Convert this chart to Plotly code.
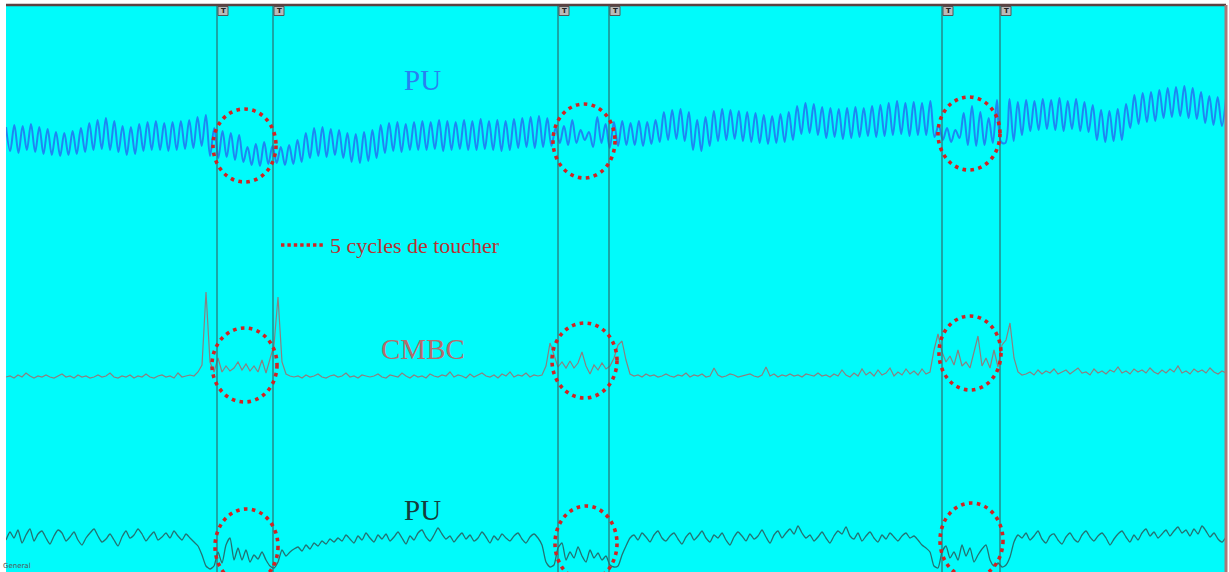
import plotly.graph_objects as go

# ---------------- data (screen-row units, larger = lower) -------------
pu_top = [
    127,151,125,153,126,150,124,152,127,154,
    129,155,132,156,133,155,131,154,128,152,
    123,150,120,149,118,150,121,152,126,155,
    127,154,124,151,122,150,121,150,123,151,
    122,150,121,149,120,148,117,146,115,156,
    128,158,131,157,133,160,135,162,147,165,
    144,166,142,164,146,163,147,165,145,164,
    140,162,133,158,128,156,127,157,129,155,
    130,158,133,162,134,163,132,161,130,158,
    125,153,123,151,122,152,124,150,122,150,
    121,150,122,149,120,151,121,150,122,149,
    120,150,121,150,119,149,121,150,120,151,
    121,150,119,148,118,147,117,148,116,147,
    118,146,128,143,126,145,120,143,130,140,
    132,147,117,143,124,148,122,146,121,145,
    123,145,121,146,122,144,120,142,112,140,
    110,139,109,141,112,150,120,151,117,146,
    111,141,109,140,110,139,111,141,112,142,
    113,143,115,144,116,143,114,142,112,140,
    106,134,103,133,104,135,107,138,108,137,
    109,139,108,138,107,137,108,136,106,137,
    105,136,103,135,101,134,103,136,102,135,
    103,135,101,137,125,140,128,142,130,138,
    113,145,106,146,112,145,118,143,100,142,
    143,99,141,102,135,100,131,101,130,99,
    129,100,130,98,131,101,129,99,131,102,
    132,105,140,110,142,111,141,109,140,104,
    128,95,124,93,122,92,121,90,118,88,
    117,87,116,86,118,88,119,92,123,96,
    125,97,126,98,
]

cmbc = [
    377,376,378,375,377,373,376,378,376,377,
    375,377,378,376,374,377,376,378,375,377,
    376,378,377,375,377,376,373,377,378,376,
    377,375,378,376,377,374,377,378,376,375,
    377,376,378,373,377,376,375,376,372,
    365,292,362,372,358,372,366,371,368,362,370,364,371,366,372,360,373,358,345,297,362,374,376,
    377,376,378,375,377,376,374,377,378,376,
    375,377,376,373,377,376,378,375,376,377,
    376,374,377,378,375,376,377,373,376,378,
    375,377,376,378,374,376,377,375,376,372,
    377,375,376,378,374,377,375,373,376,377,
    375,378,374,376,372,377,375,376,373,377,
    375,376,
    375,366,343,355,367,362,368,361,368,363,352,366,374,365,370,363,369,366,358,345,341,360,374,
    376,375,377,374,376,375,377,376,374,376,
    377,375,376,373,377,375,376,374,377,376,
    368,375,377,376,374,375,377,376,375,374,
    376,377,375,367,376,374,377,375,376,374,
    376,375,377,374,375,376,373,376,375,377,
    374,376,370,375,377,373,376,369,375,372,
    376,370,375,373,368,376,372,375,369,374,
    371,375,369,374,
    372,350,334,352,362,356,365,350,366,362,368,352,336,366,358,368,350,367,345,340,323,358,372,375,
    374,372,375,370,374,371,373,369,374,372,
    370,374,371,368,373,372,375,369,373,371,
    374,370,372,367,373,371,374,369,372,370,
    373,368,372,374,370,373,369,372,366,373,
    371,374,369,372,370,373,368,372,374,371,
    373,
]

pu_bottom = [
    540,532,538,530,543,535,529,541,534,531,
    538,544,536,530,533,541,537,532,540,545,
    538,533,529,536,542,539,534,540,546,537,
    531,538,535,529,534,541,536,532,540,537,
    533,538,531,536,540,534,538,542,546,
    555,566,569,566,552,563,545,538,560,548,560,550,562,555,559,552,560,566,568,562,550,556,552,549,547,
    551,545,549,543,546,541,544,539,542,538,
    541,535,539,543,536,540,533,538,542,535,
    539,534,541,537,532,538,544,536,540,533,
    530,537,541,535,528,534,539,536,542,537,
    533,539,535,541,538,532,537,543,536,540,
    534,538,541,536,533,539,543,537,534,538,
    545,562,567,565,548,543,560,552,558,547,556,562,550,558,553,560,556,565,567,566,555,546,538,535,
    540,533,537,542,535,531,538,541,536,533,
    539,544,537,533,540,536,531,538,542,535,
    538,533,540,545,537,532,536,541,534,539,
    536,530,537,543,535,531,538,533,529,534,
    526,533,538,535,541,537,532,538,543,536,
    531,534,527,536,539,533,541,536,532,538,
    542,535,539,533,537,541,536,533,538,536,
    540,545,548,552,
    566,568,552,546,558,552,560,545,556,548,562,555,549,545,560,566,563,567,565,557,542,535,
    538,533,540,536,531,539,543,536,534,540,
    544,537,533,539,542,535,531,537,541,536,
    533,538,545,539,534,531,537,542,535,540,
    533,529,536,532,538,534,530,536,531,527,
    533,530,536,529,534,526,531,537,533,539,
    542,537,
]

event_marks = [217, 273, 558, 609, 942, 1000]          # time cursors ("T")
touch_zones = [                                          # dotted ellipses (x0, x1, y0, y1)
    (213, 276, 109, 182), (553, 615, 104, 178), (938, 1000, 97, 170),
    (212, 277, 328, 402), (552, 617, 323, 398), (939, 1001, 316, 390),
    (215, 278, 509, 584), (555, 617, 506, 581), (940, 1003, 503, 578),
]
trace_labels = ["PU", "CMBC", "PU"]
legend_text = "5 cycles de toucher"

# ---------------- time bases ----------------
X0, X1 = 6, 1226
t_top = [X0 + (X1 - X0) * i / (len(pu_top) - 1) for i in range(len(pu_top))]
t_cmbc = [X0 + 4 * i for i in range(len(cmbc))]
t_bot = [X0 + 4 * i for i in range(len(pu_bottom))]

fig = go.Figure()
fig.add_trace(go.Scatter(x=t_top, y=pu_top, mode="lines",
                         line=dict(color="#1e86f2", width=2.0, shape="spline", smoothing=1.0),
                         hoverinfo="skip"))
fig.add_trace(go.Scatter(x=t_cmbc, y=cmbc, mode="lines",
                         line=dict(color="#8a8080", width=1.2), hoverinfo="skip"))
fig.add_trace(go.Scatter(x=t_bot, y=pu_bottom, mode="lines",
                         line=dict(color="#237272", width=1.3, shape="spline", smoothing=0.6),
                         hoverinfo="skip"))

shapes = []
RED = "#d02424"
for m in event_marks:
    shapes.append(dict(type="line", xref="x", yref="paper", x0=m, x1=m, y0=0, y1=1,
                       line=dict(color="#2c6e6e", width=1.2), layer="above"))
    shapes.append(dict(type="rect", xref="x", yref="y", x0=m + 1, x1=m + 11, y0=6.5, y1=15.5,
                       fillcolor="#b9b9b9", line=dict(color="#555555", width=1), layer="above"))
for (a, b, c, d) in touch_zones:
    shapes.append(dict(type="circle", xref="x", yref="y", x0=a, x1=b, y0=c, y1=d,
                       line=dict(color=RED, width=3.6, dash="3.6px,4.4px"), layer="above"))
# legend sample dotted line
shapes.append(dict(type="line", xref="x", yref="y", x0=281, x1=323, y0=245, y1=245,
                   line=dict(color=RED, width=3.4, dash="3.4px,3px")))
# frame borders
shapes.append(dict(type="line", xref="paper", yref="paper", x0=0, x1=1, y0=1, y1=1,
                   line=dict(color="#5c4242", width=2.5)))
shapes.append(dict(type="line", xref="paper", yref="paper", x0=1, x1=1, y0=0, y1=1,
                   line=dict(color="#a87878", width=3)))

annotations = []
for m in event_marks:
    annotations.append(dict(x=m + 6, y=11, xref="x", yref="y", text="<b>T</b>", showarrow=False,
                            font=dict(family="DejaVu Sans", size=7, color="#222222")))
label_pos = [(422, 80, "#2a7ff0"), (423, 349, "#b46c6c"), (422, 510, "#163c3c")]
for lab, (lx, ly, lc) in zip(trace_labels, label_pos):
    annotations.append(dict(x=lx, y=ly, xref="x", yref="y", text=lab, showarrow=False,
                            font=dict(family="Liberation Serif", size=29, color=lc)))
annotations.append(dict(x=328, y=245, xref="x", yref="y", text=legend_text, showarrow=False,
                        xanchor="left", font=dict(family="Liberation Serif", size=22, color="#b83232")))
annotations.append(dict(x=0, y=0, xref="paper", yref="paper", text="General", showarrow=False,
                        xanchor="left", yanchor="bottom", xshift=-5,
                        font=dict(family="DejaVu Sans", size=7, color="#555555")))

fig.update_layout(
    width=1229, height=572,
    margin=dict(l=6, r=3, t=5, b=0),
    paper_bgcolor="white", plot_bgcolor="#00fbfb",
    showlegend=False,
    xaxis=dict(range=[X0, X1], visible=False, fixedrange=True),
    yaxis=dict(range=[572, 5], visible=False, fixedrange=True),
    shapes=shapes, annotations=annotations,
)

fig.write_html("out.html", config={"displayModeBar": False},
               post_script="document.body.style.margin='0';document.body.style.overflow='hidden';")
